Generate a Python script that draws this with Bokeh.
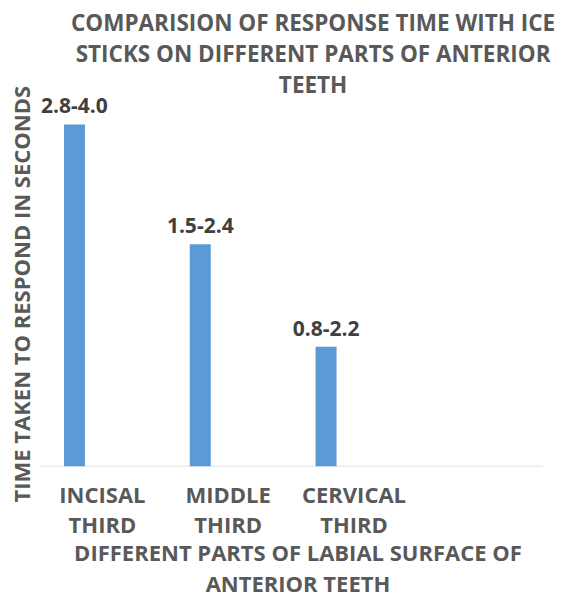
from bokeh.plotting import figure
from bokeh.models import ColumnDataSource, Range1d, FixedTicker, Label, LabelSet, Title
from bokeh.core.properties import value
from bokeh.embed import file_html
from bokeh.resources import INLINE

# Response time with ice sticks on the three parts of the labial surface
categories = ["INCISAL\nTHIRD", "MIDDLE\nTHIRD", "CERVICAL\nTHIRD"]
range_labels = ["2.8-4.0", "1.5-2.4", "0.8-2.2"]
bar_values = [4.0, 2.6, 1.4]

title_lines = [
    "COMPARISION OF RESPONSE TIME WITH ICE",
    "STICKS ON DIFFERENT PARTS OF ANTERIOR",
    "TEETH",
]
y_title = "TIME TAKEN TO RESPOND IN SECONDS"
x_title = "DIFFERENT PARTS OF LABIAL SURFACE OF\nANTERIOR TEETH"

FONT = "Open Sans"
GREY = "#595959"
DARK = "#404040"
BLUE = "#5B9BD5"
AXIS_GREY = "#D9D9D9"

n_slots = 4  # the category axis keeps one empty slot on the right
centers = [i + 0.5 for i in range(len(categories))]
bar_x = [c - 0.222 for c in centers]

src = ColumnDataSource(dict(x=bar_x, top=bar_values, label=range_labels))

p = figure(width=569, height=601, output_backend="svg", toolbar_location=None,
           x_range=Range1d(0, n_slots + 0.11), y_range=Range1d(0, 5.45),
           min_border_left=38, min_border_right=13, min_border_top=0,
           min_border_bottom=135)
p.outline_line_color = None
p.grid.visible = False
p.yaxis.visible = False
p.background_fill_color = "white"
p.border_fill_color = "white"

# horizontal category baseline across the four slots
p.segment(x0=[0], y0=[0], x1=[n_slots], y1=[0], line_color=AXIS_GREY,
          line_width=1.5)

p.vbar(x="x", top="top", width=0.167, bottom=0, source=src,
       fill_color=BLUE, line_color=None)

p.add_layout(LabelSet(x="x", y="top", text="label", source=src,
                      text_align="center", text_baseline="alphabetic",
                      y_offset=11, text_font=value(FONT),
                      text_font_style="bold", text_font_size="21px",
                      text_color=DARK))

# category axis
ax = p.xaxis[0]
ax.ticker = FixedTicker(ticks=centers)
ax.major_label_overrides = {c: t for c, t in zip(centers, categories)}
ax.major_tick_line_color = None
ax.minor_tick_line_color = None
ax.major_tick_out = 0
ax.major_tick_in = 0
ax.axis_line_color = None
ax.major_label_standoff = 12
ax.major_label_text_font = FONT
ax.major_label_text_font_style = "bold"
ax.major_label_text_font_size = "22px"
ax.major_label_text_color = GREY
ax.major_label_text_line_height = 1.0
ax.axis_label = x_title
ax.axis_label_standoff = -5
ax.axis_label_text_font = FONT
ax.axis_label_text_font_style = "bold"
ax.axis_label_text_font_size = "22px"
ax.axis_label_text_color = GREY
ax.axis_label_text_line_height = 1.05

# chart title, centred over the plot
for y, line in zip([5.19, 4.83, 4.47], title_lines):
    p.add_layout(Label(x=2.175, y=y, text=line, text_align="center",
                       text_baseline="middle", text_font=FONT,
                       text_font_style="bold", text_font_size="22.5px",
                       text_color=GREY))

# vertical value-axis title, running upward from just below the baseline
p.add_layout(Title(text=y_title, align="left", offset=-36, standoff=7,
                   text_font=FONT, text_font_style="bold",
                   text_font_size="22px", text_color=GREY), "left")

open("out.html", "w").write(file_html(p, INLINE))
